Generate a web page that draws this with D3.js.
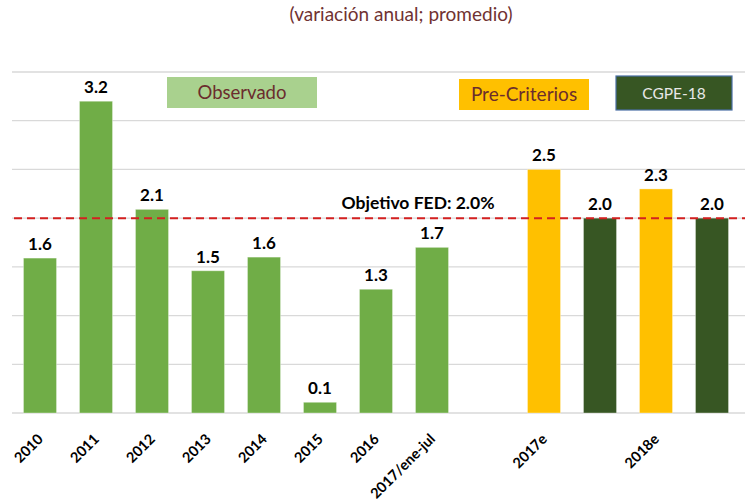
<!DOCTYPE html>
<html><head><meta charset="utf-8">
<script src="https://cdn.jsdelivr.net/npm/d3@7"></script>
<style>body{margin:0;background:#fff;} svg{display:block;font-family:Lato, "Open Sans", sans-serif;}</style>
</head><body>
<svg id="c" width="745" height="504"></svg>
<script>
const title = "(variación anual; promedio)";
const slots = ["2010","2011","2012","2013","2014","2015","2016","2017/ene-jul","gap","2017e","2017e-cgpe","2018e","2018e-cgpe"];
const tickLabels = ["2010","2011","2012","2013","2014","2015","2016","2017/ene-jul","","2017e","","2018e",""];
const observadoCats = ["2010","2011","2012","2013","2014","2015","2016","2017/ene-jul"];
const observado = [1.59,3.2,2.09,1.46,1.6,0.11,1.27,1.7];
const preCats = ["2017e","2018e"];
const preCriterios = [2.5,2.3];
const cgpeCats = ["2017e-cgpe","2018e-cgpe"];
const cgpe = [2.0,2.0];
const yTicks = [0,0.5,1,1.5,2,2.5,3,3.5];
const fedTarget = 2.0;
const fedLabel = "Objetivo FED: 2.0%";
const legendItems = ["Observado","Pre-Criterios","CGPE-18"];

const svg = d3.select("#c");
const x = d3.scaleBand().domain(slots).range([12,740]).paddingInner(0.41).paddingOuter(0.205);
const y = d3.scaleLinear().domain([0,3.5]).range([413,72]);

svg.append("text").attr("x",401).attr("y",21).attr("text-anchor","middle")
  .attr("font-size",19).attr("fill","#703232").text(title);

// gridlines
svg.append("g").selectAll("line").data(yTicks).join("line")
  .attr("x1",12).attr("x2",745).attr("y1",d=>y(d)).attr("y2",d=>y(d))
  .attr("stroke","#d9d9d9").attr("stroke-width",1.3);

const series = [
  {cats:observadoCats, vals:observado, color:"#70ad47"},
  {cats:preCats, vals:preCriterios, color:"#ffc000"},
  {cats:cgpeCats, vals:cgpe, color:"#375623"}
];
series.forEach(s=>{
  const data = s.cats.map((c,i)=>({c,v:s.vals[i]}));
  svg.append("g").selectAll("rect").data(data).join("rect")
    .attr("x",d=>x(d.c)).attr("width",x.bandwidth())
    .attr("y",d=>y(d.v)).attr("height",d=>y(0)-y(d.v)).attr("fill",s.color)
    .attr("stroke","rgba(255,255,255,0.35)").attr("stroke-width",1);
  svg.append("g").selectAll("text").data(data).join("text")
    .attr("x",d=>x(d.c)+x.bandwidth()/2).attr("y",d=>y(d.v)-8)
    .attr("text-anchor","middle").attr("font-size",17).attr("font-weight","bold")
    .attr("fill","#000").text(d=>d.v.toFixed(1));
});

// FED line
svg.append("line").attr("x1",14).attr("x2",745).attr("y1",y(fedTarget)).attr("y2",y(fedTarget))
  .attr("stroke","#d42020").attr("stroke-width",2).attr("stroke-dasharray","8,5");
svg.append("text").attr("x",418).attr("y",y(fedTarget)-9).attr("text-anchor","middle")
  .attr("font-size",17.5).attr("font-weight","bold").text(fedLabel);

// x axis
const xAxis = d3.axisBottom(x).tickSize(0).tickFormat((d,i)=>tickLabels[i]);
const gx = svg.append("g").attr("transform","translate(0,413)").call(xAxis);
gx.select(".domain").remove();
gx.selectAll("text").attr("font-family","Lato, sans-serif").attr("font-size",14.5).attr("font-weight","bold")
  .attr("fill","#000").attr("text-anchor","end").attr("dy",null).attr("y",0)
  .attr("transform","translate(4,27) rotate(-45)");

// legend
const leg = [
  {t:legendItems[0], x:167, y:77, w:150, h:31, fill:"#a9d18e", stroke:"none", tc:"#6b2d2d", fs:18.5},
  {t:legendItems[1], x:459, y:79, w:130, h:31, fill:"#ffc000", stroke:"none", tc:"#6b2d2d", fs:19},
  {t:legendItems[2], x:616, y:76, w:116, h:34, fill:"#375623", stroke:"#4a6fa5", tc:"#e8e8e8", fs:15.5}
];
const lg = svg.append("g").selectAll("g").data(leg).join("g");
lg.append("rect").attr("x",d=>d.x).attr("y",d=>d.y).attr("width",d=>d.w).attr("height",d=>d.h)
  .attr("fill",d=>d.fill).attr("stroke",d=>d.stroke).attr("stroke-width",1.2);
lg.append("text").attr("x",d=>d.x+d.w/2).attr("y",d=>d.y+d.h/2+6).attr("text-anchor","middle")
  .attr("font-size",d=>d.fs).attr("fill",d=>d.tc).text(d=>d.t);
</script>
</body></html>
